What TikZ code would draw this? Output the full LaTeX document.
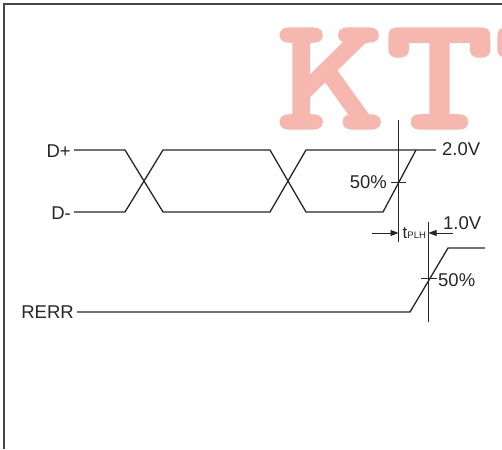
\documentclass[tikz,border=0pt]{standalone}
\usepackage{fontspec}
\setmainfont{Liberation Sans}
\newfontfamily\wmfont{lmmonolt10-bold.otf}[FakeStretch=1.28, FakeBold=2]
\usepackage{xcolor}
\usepackage{tikz}
\usetikzlibrary{positioning,calc,arrows.meta}
\definecolor{MarkPink}{RGB}{246,183,175}
\definecolor{FrameGray}{RGB}{70,70,70}

\begin{document}
\begin{tikzpicture}[x=1pt, y=-1pt,
                % Style for signal and guide lines
                sig/.style={draw=black!85, line width=1.3pt, line join=miter},
                guide/.style={draw=black!85, line width=0.9pt},
                tick/.style={draw=black!85, line width=0.9pt},
                meas/.style={-{Triangle[length=8pt,width=6pt]}, draw=black!85, line width=0.9pt},
                % Style for labels
                lbl/.style={font=\fontsize{18.5}{20}\selectfont, text=black!85, inner sep=0pt},
                sublbl/.style={font=\fontsize{17}{18}\selectfont, text=black!85, inner sep=0pt},
                wmark/.style={font=\wmfont\fontsize{162}{162}\selectfont, text=MarkPink, inner sep=0pt, anchor=base west}
            ]
                \useasboundingbox (0,0) rectangle (502,449);
                \begin{scope}
                \clip (0,0) rectangle (502,449);

                % --- WATERMARK ---
                \node[wmark] (wm) at (276,128) {KTT};
                \end{scope}

                % --- FRAME ---
                \draw[FrameGray, line width=2pt] (4,449) -- (4,4) -- (502,4);

                % --- SIGNAL LABELS ---
                \node[lbl, anchor=east] (dp) at (71,151) {D+};
                \node[lbl, anchor=east] (dm) at (71,213) {D-};
                \node[lbl, anchor=east] (rerr) at (74,312) {RERR};

                % Level labels
                \node[lbl, anchor=west] (v2) at (442,149) {2.0V};
                \node[lbl, anchor=west] (v1) at (443,223) {1.0V};
                \node[lbl, anchor=east] (pa) at (387,182) {50\%};
                \node[lbl, anchor=west] (pb) at (438,280) {50\%};

                % --- WAVEFORMS ---
                \draw[sig] ($(dp.east)+(3,-1)$) -- (125,150) -- (163,212) -- (270,212) -- (306,150) -- ($(v2.west)+(-6,1)$);
                \draw[sig] ($(dm.east)+(3,-1)$) -- (125,212) -- (163,150) -- (270,150) -- (306,212) -- (383,212) -- (416,150);
                \draw[sig] ($(rerr.east)+(3,0)$) -- (410,312) -- (448,248) -- (485,248);

                % 50% ticks
                \draw[tick] (391,182) -- (406,182);
                \draw[tick] (421,278.5) -- (437,278.5);

                % --- MEASURE LINES ---
                \coordinate (ga) at (398.5,120);
                \coordinate (gb) at (398.5,242);
                \coordinate (gc) at (428.5,222);
                \coordinate (gd) at (428.5,322);
                \draw[guide] (ga) -- (gb);
                \draw[guide] (gc) -- (gd);

                % tPLH arrows
                \coordinate (la) at (372,233);
                \coordinate (ra) at (453,233);
                \draw[meas] (la) -- (ga |- la);
                \draw[meas] (ra) -- (gc |- ra);
                \node[sublbl, anchor=base west] (tp) at (402.5,238.5) {t\fontsize{9.5}{10}\selectfont PLH};

            \end{tikzpicture}
\end{document}
